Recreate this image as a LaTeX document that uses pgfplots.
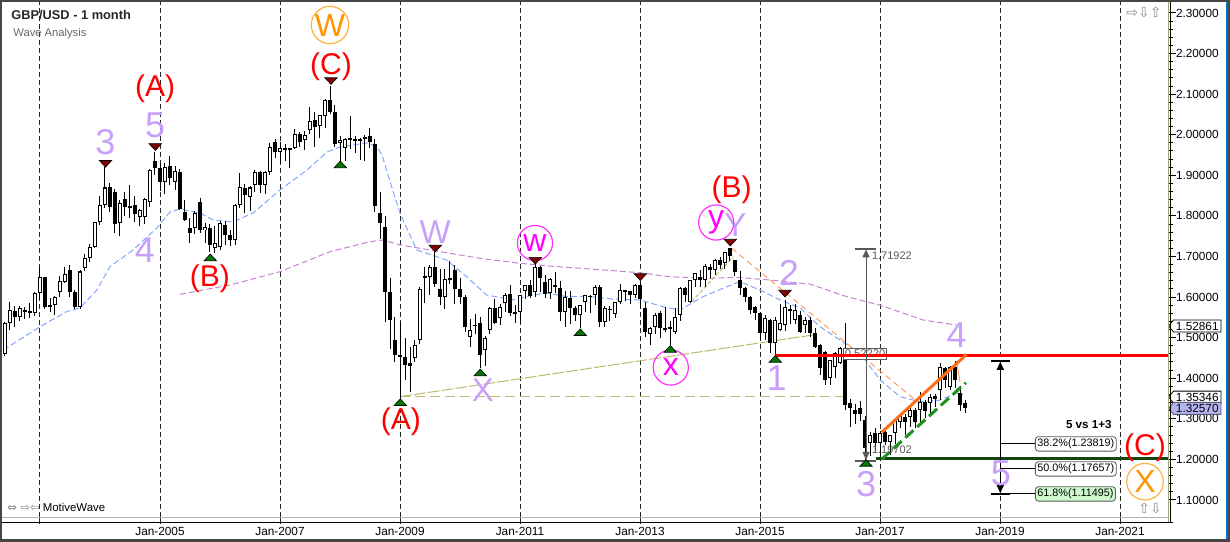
\documentclass[border=0pt]{standalone}
\usepackage{pgfplots}
\pgfplotsset{compat=1.18}
\usepackage{pgfplotstable}
\usepackage{fontspec}
\setmainfont{Liberation Sans}
\newfontfamily\symfont{DejaVu Sans}
\usetikzlibrary{arrows.meta,shapes.symbols}

\definecolor{lilac}{RGB}{200,160,250}
\definecolor{worange}{RGB}{255,150,0}
\definecolor{wmag}{RGB}{255,0,255}
\definecolor{maBlue}{RGB}{130,165,255}
\definecolor{maPurple}{RGB}{200,130,210}
\definecolor{khaki}{RGB}{190,185,110}
\definecolor{trired}{RGB}{130,0,0}
\definecolor{trigreen}{RGB}{0,120,0}
\definecolor{chanOrange}{RGB}{255,110,20}
\definecolor{chanGreen}{RGB}{30,145,30}
\definecolor{dkgreen}{RGB}{20,70,20}
\definecolor{measgray}{RGB}{90,90,90}
\definecolor{lav}{RGB}{180,180,238}
\definecolor{fibgreen}{RGB}{205,250,205}
\definecolor{frame}{RGB}{70,70,70}
\definecolor{mwblue}{RGB}{0,114,206}

\pgfplotstableread{
y m o h l c
2002 6 1.460 1.539 1.455 1.536
2002 7 1.536 1.589 1.519 1.568
2002 8 1.566 1.578 1.525 1.552
2002 9 1.552 1.577 1.540 1.573
2002 10 1.565 1.575 1.545 1.567
2002 11 1.561 1.585 1.548 1.564
2002 12 1.560 1.613 1.553 1.611
2003 1 1.611 1.675 1.592 1.650
2003 2 1.649 1.650 1.570 1.576
2003 3 1.576 1.598 1.562 1.580
2003 4 1.580 1.603 1.555 1.601
2003 5 1.613 1.652 1.600 1.640
2003 6 1.638 1.675 1.635 1.658
2003 7 1.667 1.680 1.600 1.613
2003 8 1.613 1.618 1.570 1.576
2003 9 1.576 1.666 1.570 1.663
2003 10 1.671 1.705 1.664 1.696
2003 11 1.696 1.730 1.687 1.724
2003 12 1.724 1.786 1.720 1.786
2004 1 1.786 1.850 1.778 1.827
2004 2 1.827 1.920 1.820 1.870
2004 3 1.872 1.880 1.810 1.823
2004 4 1.860 1.866 1.757 1.779
2004 5 1.782 1.840 1.750 1.833
2004 6 1.841 1.858 1.800 1.823
2004 7 1.824 1.877 1.795 1.820
2004 8 1.827 1.850 1.786 1.805
2004 9 1.797 1.818 1.774 1.815
2004 10 1.798 1.845 1.780 1.841
2004 11 1.835 1.916 1.823 1.913
2004 12 1.936 1.958 1.900 1.917
2005 1 1.917 1.929 1.862 1.884
2005 2 1.884 1.930 1.854 1.921
2005 3 1.923 1.948 1.876 1.893
2005 4 1.884 1.922 1.864 1.910
2005 5 1.909 1.916 1.815 1.817
2005 6 1.810 1.838 1.788 1.790
2005 7 1.769 1.795 1.733 1.759
2005 8 1.769 1.812 1.756 1.806
2005 9 1.835 1.845 1.759 1.765
2005 10 1.765 1.783 1.733 1.772
2005 11 1.769 1.779 1.712 1.728
2005 12 1.720 1.775 1.708 1.733
2006 1 1.724 1.788 1.715 1.783
2006 2 1.778 1.788 1.728 1.753
2006 3 1.753 1.765 1.727 1.741
2006 4 1.741 1.830 1.728 1.827
2006 5 1.827 1.906 1.820 1.872
2006 6 1.868 1.878 1.808 1.852
2006 7 1.847 1.873 1.811 1.870
2006 8 1.876 1.913 1.858 1.909
2006 9 1.909 1.911 1.857 1.876
2006 10 1.876 1.911 1.855 1.909
2006 11 1.909 1.979 1.902 1.971
2006 12 1.983 1.990 1.943 1.958
2007 1 1.958 1.982 1.930 1.967
2007 2 1.966 1.976 1.936 1.962
2007 3 1.962 1.968 1.918 1.966
2007 4 1.967 2.013 1.964 2.002
2007 5 2.002 2.006 1.970 1.983
2007 6 1.987 2.009 1.963 2.000
2007 7 2.012 2.069 2.003 2.035
2007 8 2.036 2.055 1.971 2.020
2007 9 2.021 2.049 1.991 2.049
2007 10 2.045 2.087 2.016 2.086
2007 11 2.086 2.120 2.051 2.057
2007 12 2.057 2.073 1.969 1.977
2008 1 1.980 1.996 1.936 1.988
2008 2 1.967 1.993 1.936 1.989
2008 3 1.992 2.045 1.966 1.988
2008 4 1.985 1.996 1.956 1.990
2008 5 1.985 1.993 1.937 1.990
2008 6 1.990 2.000 1.936 1.995
2008 7 1.997 2.016 1.967 1.983
2008 8 1.977 1.989 1.810 1.825
2008 9 1.806 1.858 1.744 1.783
2008 10 1.773 1.800 1.538 1.613
2008 11 1.613 1.647 1.471 1.543
2008 12 1.494 1.550 1.440 1.457
2009 1 1.457 1.539 1.350 1.452
2009 2 1.453 1.498 1.396 1.433
2009 3 1.437 1.478 1.367 1.430
2009 4 1.449 1.495 1.440 1.482
2009 5 1.494 1.625 1.485 1.619
2009 6 1.648 1.675 1.585 1.652
2009 7 1.650 1.680 1.605 1.675
2009 8 1.675 1.712 1.626 1.632
2009 9 1.619 1.670 1.580 1.601
2009 10 1.601 1.670 1.570 1.644
2009 11 1.643 1.688 1.633 1.647
2009 12 1.666 1.680 1.584 1.619
2010 1 1.619 1.646 1.583 1.601
2010 2 1.601 1.605 1.515 1.527
2010 3 1.501 1.545 1.478 1.520
2010 4 1.532 1.558 1.508 1.528
2010 5 1.535 1.551 1.4245 1.457
2010 6 1.469 1.504 1.431 1.498
2010 7 1.520 1.575 1.510 1.572
2010 8 1.572 1.596 1.534 1.535
2010 9 1.548 1.582 1.530 1.576
2010 10 1.586 1.610 1.564 1.605
2010 11 1.608 1.630 1.554 1.560
2010 12 1.561 1.581 1.535 1.559
2011 1 1.562 1.606 1.535 1.605
2011 2 1.616 1.630 1.596 1.630
2011 3 1.630 1.642 1.597 1.603
2011 4 1.613 1.687 1.600 1.675
2011 5 1.675 1.677 1.613 1.646
2011 6 1.636 1.655 1.598 1.608
2011 7 1.609 1.648 1.595 1.644
2011 8 1.630 1.662 1.610 1.625
2011 9 1.622 1.640 1.540 1.562
2011 10 1.562 1.615 1.527 1.601
2011 11 1.597 1.616 1.533 1.572
2011 12 1.572 1.578 1.542 1.556
2012 1 1.556 1.580 1.523 1.580
2012 2 1.589 1.597 1.563 1.605
2012 3 1.600 1.604 1.560 1.603
2012 4 1.605 1.630 1.581 1.626
2012 5 1.626 1.630 1.527 1.539
2012 6 1.539 1.578 1.527 1.572
2012 7 1.568 1.578 1.540 1.571
2012 8 1.558 1.588 1.549 1.589
2012 9 1.589 1.631 1.583 1.617
2012 10 1.616 1.617 1.591 1.614
2012 11 1.615 1.616 1.583 1.605
2012 12 1.605 1.631 1.598 1.630
2013 1 1.630 1.638 1.570 1.594
2013 2 1.572 1.589 1.501 1.515
2013 3 1.509 1.526 1.483 1.523
2013 4 1.527 1.560 1.509 1.556
2013 5 1.560 1.566 1.500 1.523
2013 6 1.523 1.575 1.513 1.519
2013 7 1.525 1.541 1.482 1.521
2013 8 1.515 1.572 1.510 1.552
2013 9 1.556 1.626 1.542 1.622
2013 10 1.622 1.626 1.589 1.605
2013 11 1.589 1.638 1.585 1.642
2013 12 1.642 1.660 1.626 1.659
2014 1 1.650 1.667 1.625 1.642
2014 2 1.642 1.682 1.625 1.676
2014 3 1.675 1.682 1.647 1.667
2014 4 1.667 1.695 1.655 1.691
2014 5 1.691 1.699 1.669 1.679
2014 6 1.683 1.712 1.669 1.712
2014 7 1.720 1.722 1.688 1.700
2014 8 1.691 1.692 1.653 1.662
2014 9 1.642 1.665 1.605 1.622
2014 10 1.622 1.625 1.587 1.601
2014 11 1.601 1.603 1.559 1.568
2014 12 1.576 1.579 1.544 1.560
2015 1 1.561 1.562 1.495 1.511
2015 2 1.511 1.555 1.495 1.548
2015 3 1.543 1.545 1.463 1.486
2015 4 1.486 1.550 1.4565 1.543
2015 5 1.519 1.582 1.517 1.535
2015 6 1.531 1.593 1.517 1.576
2015 7 1.570 1.580 1.533 1.565
2015 8 1.543 1.582 1.533 1.568
2015 9 1.556 1.566 1.511 1.515
2015 10 1.531 1.551 1.511 1.543
2015 11 1.543 1.551 1.502 1.511
2015 12 1.511 1.524 1.474 1.478
2016 1 1.482 1.485 1.408 1.424
2016 2 1.465 1.467 1.384 1.396
2016 3 1.400 1.446 1.384 1.445
2016 4 1.428 1.464 1.401 1.461
2016 5 1.437 1.477 1.434 1.474
2016 6 1.453 1.535 1.322 1.334
2016 7 1.338 1.348 1.280 1.326
2016 8 1.322 1.337 1.286 1.313
2016 9 1.326 1.345 1.294 1.313
2016 10 1.297 1.306 1.197 1.227
2016 11 1.240 1.268 1.208 1.260
2016 12 1.264 1.278 1.220 1.240
2017 1 1.240 1.270 1.199 1.264
2017 2 1.268 1.271 1.235 1.244
2017 3 1.244 1.261 1.211 1.260
2017 4 1.264 1.296 1.237 1.297
2017 5 1.293 1.312 1.277 1.309
2017 6 1.305 1.311 1.259 1.293
2017 7 1.305 1.327 1.281 1.322
2017 8 1.322 1.327 1.278 1.293
2017 9 1.322 1.366 1.285 1.342
2017 10 1.342 1.346 1.303 1.318
2017 11 1.338 1.360 1.304 1.3545
2017 12 1.350 1.362 1.330 1.355
2018 1 1.371 1.437 1.346 1.428
2018 2 1.424 1.428 1.377 1.396
2018 3 1.379 1.430 1.371 1.428
2018 4 1.428 1.443 1.376 1.395
2018 5 1.363 1.380 1.320 1.334
2018 6 1.340 1.347 1.315 1.3257
}\ohlc

\tikzset{
  lil/.style={text=lilac, font=\fontsize{16.5}{16.5}\selectfont, inner sep=0pt},
  lild/.style={text=lilac, font=\fontsize{18}{18}\selectfont, inner sep=0pt},
  wr/.style={text=red, font=\fontsize{15}{15}\selectfont, inner sep=0pt},
  oc/.style={circle, draw=worange!75, line width=0.6pt, text=worange, font=\fontsize{16}{16}\selectfont, minimum size=18.3pt, inner sep=0pt},
  mc/.style={circle, draw=wmag!80, line width=0.6pt, text=wmag, font=\fontsize{16}{16}\selectfont, minimum size=17.6pt, inner sep=0pt},
  fib/.style={draw=measgray, fill=white, rounded corners=1.5pt, line width=0.4pt, inner xsep=1pt, inner ysep=1.1pt, anchor=west, font=\fontsize{5.4}{5.4}\selectfont},
  pbox/.style={signal, signal to=west, signal pointer angle=100, draw=black, fill=white, line width=0.4pt, inner xsep=1.2pt, inner ysep=0.6pt, minimum height=6pt, anchor=west, font=\fontsize{5.9}{5.9}\selectfont},
  dlab/.style={anchor=base, inner sep=0pt, font=\fontsize{5.9}{5.9}\selectfont, yshift=-9pt},
}

\begin{document}
\begin{tikzpicture}
\useasboundingbox (-1pt,-12pt) rectangle (614pt,258.5pt);
\begin{axis}[
  at={(0pt,0pt)}, anchor=south west, scale only axis,
  width=583.5pt, height=257.5pt,
  xmin=2002.3667, xmax=2021.8167, ymin=1.058, ymax=2.3271,
  clip=false,
  axis line style={draw=none},
  xtick={2003,2005,2007,2009,2011,2013,2015,2017,2019,2021},
  xticklabels={},
  xtick pos=left,
  xmajorgrids,
  major x grid style={black!85, line width=0.5pt, dash pattern=on 2.5pt off 1.5pt},
  ytick={1.1,1.2,1.3,1.4,1.5,1.6,1.7,1.8,1.9,2.0,2.1,2.2,2.3},
  yticklabels={1.10000,1.20000,1.30000,1.40000,1.50000,1.60000,1.70000,1.80000,1.90000,2.00000,2.10000,2.20000,2.30000},
  ytick pos=right, yticklabel pos=right,
  minor y tick num=4,
  tick align=outside,
  major tick length=3.3pt, minor tick length=2pt,
  y tick style={black, line width=0.5pt},
  x tick style={black!85, line width=0.5pt},
  yticklabel style={anchor=west, inner sep=0pt, font=\fontsize{5.9}{5.9}\selectfont},
]
% moving averages
\addplot[maBlue, line width=0.5pt, dash pattern=on 3pt off 1.5pt] coordinates {
(2002.389,1.4695) (2003.0,1.527) (2003.444,1.564) (2003.667,1.573) (2003.945,1.617) (2004.167,1.675) (2004.55,1.716) (2004.945,1.770) (2005.167,1.810) (2005.333,1.817) (2005.667,1.807) (2005.883,1.790) (2006.217,1.785) (2006.55,1.807) (2007.0,1.864) (2007.45,1.913) (2007.783,1.9575) (2008.0,1.970) (2008.45,1.980) (2008.617,1.970) (2008.7,1.950) (2008.833,1.885) (2009.0,1.807) (2009.278,1.716) (2009.778,1.691) (2010.111,1.650) (2010.445,1.605) (2010.883,1.593) (2011.217,1.605) (2011.445,1.610) (2011.778,1.601) (2012.167,1.601) (2012.55,1.595) (2013.0,1.593) (2013.383,1.576) (2013.667,1.568) (2014.05,1.601) (2014.445,1.6255) (2014.667,1.638) (2015.0,1.617) (2015.333,1.593) (2015.667,1.573) (2016.0,1.527) (2016.333,1.494) (2016.667,1.462) (2017.0,1.396) (2017.333,1.3545) (2017.667,1.342) (2018.0,1.346) (2018.278,1.364) (2018.383,1.359)};
\addplot[maPurple, line width=0.5pt, dash pattern=on 3pt off 1.5pt] coordinates {
(2005.333,1.6068) (2006.167,1.6297) (2007.0,1.6625) (2007.833,1.7118) (2008.5,1.7364) (2008.717,1.7406) (2009.0,1.7283) (2009.5,1.716) (2010.333,1.6955) (2011.0,1.6832) (2011.445,1.677) (2012.0,1.6709) (2013.0,1.660) (2013.5,1.650) (2014.167,1.6462) (2014.611,1.6487) (2015.167,1.642) (2015.833,1.632) (2016.445,1.601) (2017.0,1.580) (2017.717,1.5435) (2018.278,1.531)};
% khaki helper lines
\addplot[khaki, line width=0.5pt, dash pattern=on 5pt off 2.5pt] coordinates {(2009.0,1.3545) (2016.383,1.3545)};
\addplot[khaki, line width=0.5pt, dash pattern=on 6pt off 1pt] coordinates {(2009.0,1.3545) (2015.883,1.5065)};
\addplot[khaki, line width=0.5pt, dash pattern=on 2pt off 1pt] coordinates {(2013.86,1.5886) (2014.555,1.6995)};
\addplot[chanOrange!70, line width=0.5pt, dash pattern=on 3pt off 2pt] coordinates {(2014.528,1.7202) (2017.6,1.345)};
\addplot[chanOrange!70, line width=0.5pt] coordinates {(2018.278,1.4407) (2018.333,1.3914)};
% candles: wicks
\addplot[draw=none, mark=none, error bars/.cd, y dir=both, y explicit, error mark=none,
  error bar style={draw=black, line width=0.5pt, line cap=butt}]
  table[x expr={\thisrow{y}+(\thisrow{m}-1)/12}, y expr={(\thisrow{h}+\thisrow{l})/2}, y error expr={(\thisrow{h}-\thisrow{l})/2}] {\ohlc};
% candle bodies
\addplot[draw=none, mark=none, error bars/.cd, y dir=both, y explicit, error mark=none,
  error bar style={draw=black, line width=2pt, line cap=butt}]
  table[x expr={\thisrow{y}+(\thisrow{m}-1)/12}, y expr={(\thisrow{o}+\thisrow{c})/2}, y error expr={max(abs(\thisrow{o}-\thisrow{c})/2,0.0022)}] {\ohlc};
\addplot[draw=none, mark=none, error bars/.cd, y dir=both, y explicit, error mark=none,
  error bar style={draw=white, line width=1pt, line cap=butt}]
  table[x expr={\thisrow{y}+(\thisrow{m}-1)/12}, y expr={(\thisrow{o}+\thisrow{c})/2}, y error expr={(\thisrow{c}>\thisrow{o})*max(abs(\thisrow{o}-\thisrow{c})/2-0.0025,0)}] {\ohlc};
% swing markers
\addplot[only marks, mark=triangle*, mark size=3.6pt, mark options={fill=trired, draw=black, line width=0.3pt, rotate=180, yscale=0.62}] coordinates {
(2004.092,1.9311) (2004.922,1.9723) (2007.85,2.1349) (2009.588,1.7221) (2011.255,1.6921) (2013.005,1.6519) (2014.505,1.7369) (2015.417,1.6112)};
\addplot[only marks, mark=triangle*, mark size=3.6pt, mark options={fill=trigreen, draw=black, line width=0.3pt, yscale=0.62}] coordinates {
(2005.838,1.695) (2008.005,1.9242) (2009.005,1.3382) (2010.338,1.4116) (2012.005,1.5107) (2013.505,1.4695) (2015.255,1.4449) (2016.767,1.1886)};
% measure box behind red line
\node[draw=measgray, fill=white, line width=0.4pt, inner sep=0.8pt, text=measgray, font=\fontsize{5.6}{5.6}\selectfont] at (axis cs:2016.75,1.4597) {0.52220};
% support / resistance
\addplot[red, line width=1.5pt] coordinates {(2015.25,1.4565) (2021.8167,1.4565)};
\addplot[dkgreen, line width=1.5pt] coordinates {(2016.933,1.2025) (2021.8167,1.2025)};
% channel
\addplot[chanOrange, line width=1.5pt] coordinates {(2017.028,1.2667) (2018.445,1.459)};
\addplot[chanGreen, line width=1.5pt, dash pattern=on 5.5pt off 2.5pt] coordinates {(2017.028,1.2002) (2018.43,1.389)};
% gray measure
\addplot[measgray, line width=0.5pt, arrows={Triangle[length=4pt,width=3.6pt]-Triangle[length=4pt,width=3.6pt]}] coordinates {(2016.767,1.19902) (2016.767,1.71722)};
\addplot[measgray, line width=1pt] coordinates {(2016.583,1.71922) (2016.928,1.71922)};
\addplot[measgray, line width=1pt] coordinates {(2016.583,1.19702) (2016.928,1.19702)};
\node[anchor=west, inner sep=0pt, text=measgray, font=\fontsize{5.5}{5.5}\selectfont] at (axis cs:2016.86,1.7012) {1.71922};
\node[anchor=west, inner sep=0pt, text=measgray, font=\fontsize{5.5}{5.5}\selectfont] at (axis cs:2016.86,1.2231) {1.19702};
% black fib measure
\addplot[black, line width=0.5pt, arrows={Triangle[length=4pt,width=3.6pt]-Triangle[length=4pt,width=3.6pt]}] coordinates {(2019.005,1.11695) (2019.005,1.4404)};
\addplot[black, line width=1pt] coordinates {(2018.845,1.4424) (2019.167,1.4424)};
\addplot[black, line width=1pt] coordinates {(2018.845,1.11495) (2019.167,1.11495)};
\addplot[black, line width=0.4pt] coordinates {(2019.005,1.23819) (2019.583,1.23819)};
\addplot[black, line width=0.4pt] coordinates {(2019.005,1.17657) (2019.583,1.17657)};
\addplot[black, line width=0.4pt] coordinates {(2019.005,1.11495) (2019.583,1.11495)};
\node[fib] at (axis cs:2019.583,1.23819) {38.2\%(1.23819)};
\node[fib] at (axis cs:2019.583,1.17657) {50.0\%(1.17657)};
\node[fib, fill=fibgreen] at (axis cs:2019.583,1.11495) {61.8\%(1.11495)};
\node[font=\bfseries\fontsize{5.8}{5.8}\selectfont, inner sep=0pt] at (axis cs:2020.48,1.286) {5 vs 1+3};
% wave labels
\node[lild] at (axis cs:2004.088,1.9821) {3};
\node[lild] at (axis cs:2004.917,2.024) {5};
\node[lild] at (axis cs:2004.75,1.716) {4};
\node[lil] at (axis cs:2009.588,1.7611) {W};
\node[lil] at (axis cs:2010.383,1.371) {X};
\node[lil] at (axis cs:2014.59,1.7776) {Y};
\node[lild] at (axis cs:2015.278,1.4005) {1};
\node[lild] at (axis cs:2015.483,1.6605) {2};
\node[lild] at (axis cs:2016.767,1.1381) {3};
\node[lild] at (axis cs:2018.278,1.5065) {4};
\node[lild] at (axis cs:2019.013,1.1664) {5};
\node[wr] at (axis cs:2004.917,2.1144) {(A)};
\node[wr] at (axis cs:2005.833,1.6445) {(B)};
\node[wr] at (axis cs:2007.85,2.1677) {(C)};
\node[wr] at (axis cs:2009.013,1.2921) {(A)};
\node[wr] at (axis cs:2014.528,1.8638) {(B)};
\node[wr] at (axis cs:2021.417,1.2293) {(C)};
\node[oc] at (axis cs:2007.833,2.2704) {W};
\node[oc] at (axis cs:2021.417,1.145) {X};
\node[mc] at (axis cs:2011.25,1.7332) {w};
\node[mc] at (axis cs:2013.513,1.4264) {x};
\node[mc] at (axis cs:2014.27,1.7837) {y};
% date labels
\node[dlab] at (axis cs:2005,1.058) {Jan-2005};
\node[dlab] at (axis cs:2007,1.058) {Jan-2007};
\node[dlab] at (axis cs:2009,1.058) {Jan-2009};
\node[dlab] at (axis cs:2011,1.058) {Jan-2011};
\node[dlab] at (axis cs:2013,1.058) {Jan-2013};
\node[dlab] at (axis cs:2015,1.058) {Jan-2015};
\node[dlab] at (axis cs:2017,1.058) {Jan-2017};
\node[dlab] at (axis cs:2019,1.058) {Jan-2019};
\node[dlab] at (axis cs:2021,1.058) {Jan-2021};
% price boxes
\node[pbox] at (axis cs:2021.8,1.52861) {1.52861};
\node[pbox] at (axis cs:2021.8,1.35346) {1.35346};
\node[pbox, fill=lav, draw=lav!50!black] at (axis cs:2021.8,1.3257) {1.32570};
\end{axis}
% frame
\draw[black!30, line width=0.5pt] (-1pt,0pt) -- (583.5pt,0pt);
\draw[black, line width=0.6pt] (-1pt,-2.65pt) -- (585.5pt,-2.65pt);
\draw[khaki!60!gray, line width=0.5pt] (583pt,-2.65pt) -- (583pt,258.5pt);
\draw[black, line width=0.6pt] (584.2pt,-2.65pt) -- (584.2pt,258.5pt);
\fill[mwblue] (612pt,-12pt) rectangle (614pt,258.5pt);
\draw[frame, line width=2pt] (-1pt,-12pt) rectangle (614pt,258.5pt);
% texts
\node[anchor=west, inner sep=0pt, text=black!85, font=\bfseries\fontsize{6.4}{6.4}\selectfont] at (4.5pt,250.9pt) {GBP/USD - 1 month};
\node[anchor=west, inner sep=0pt, text=black!60, font=\fontsize{5.6}{5.6}\selectfont] at (5.5pt,241.8pt) {Wave Analysis};
\node[anchor=west, inner sep=0pt, font=\fontsize{5.7}{5.7}\selectfont] at (2.5pt,5pt) {{\symfont\color{black!50}⇔ ⇨⇦} MotiveWave};
\node[inner sep=0pt, text=black!45, font=\symfont\fontsize{7}{7}\selectfont] at (571pt,252.5pt) {⇨⇩⇧};
\node[inner sep=0pt, text=black!45, font=\symfont\fontsize{7}{7}\selectfont] at (574pt,4.5pt) {⇧⇩};
\end{tikzpicture}
\end{document}
